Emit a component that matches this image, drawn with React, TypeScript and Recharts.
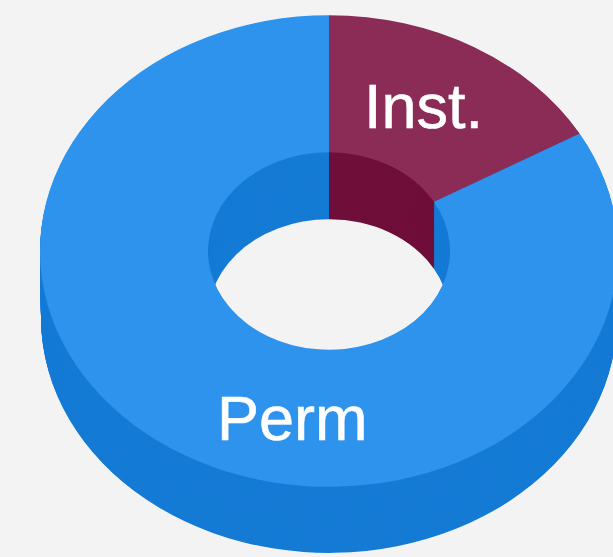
import { PieChart, Pie, Cell } from 'recharts';

const categories = ['Inst.', 'Perm'];
const values = [16.7, 83.3];
const topColors = ['#8b2c57', '#2d93ed'];
const sideColors = ['#6f0f3a', '#157bd5'];

const data = categories.map((name, i) => ({ name, value: values[i] }));

// the flat pie gets squashed with a css transform to look tilted
const SQUASH = 0.816;
const CX = 329;
const CY = 251 / SQUASH;
const OUTER = 289;
const INNER = 121;
const DEPTH = Math.round(67 / SQUASH);

const layers: number[] = [];
for (let d = DEPTH; d > 0; d--) layers.push(d);

const labelStyle = {
  fill: '#fff',
  stroke: '#fff',
  strokeWidth: 0.6,
  fontFamily: "'Liberation Sans', Arial, sans-serif",
  fontSize: 63,
};

export default function App() {
  return (
    <div style={{ position: 'fixed', left: 0, top: 0, width: 613, height: 557, overflow: 'hidden', background: '#f3f3f3' }}>
      <div style={{ position: 'absolute', left: 0, top: 0, width: 640, height: 720, transform: `scaleY(${SQUASH})`, transformOrigin: '0 0', filter: 'blur(0.5px)' }}>
        <PieChart width={640} height={720} margin={{ top: 0, right: 0, bottom: 0, left: 0 }}>
          {layers.map((d) => (
            <Pie
              key={d}
              data={data}
              dataKey="value"
              nameKey="name"
              cx={CX}
              cy={CY + d}
              innerRadius={INNER}
              outerRadius={OUTER - d / DEPTH}
              startAngle={90}
              endAngle={-270}
              stroke="none"
              isAnimationActive={false}
            >
              {data.map((entry, i) => (
                <Cell key={entry.name} fill={sideColors[i]} />
              ))}
            </Pie>
          ))}
          <Pie
            data={data}
            dataKey="value"
            nameKey="name"
            cx={CX}
            cy={CY}
            innerRadius={INNER}
            outerRadius={OUTER}
            startAngle={90}
            endAngle={-270}
            stroke="none"
            isAnimationActive={false}
          >
            {data.map((entry, i) => (
              <Cell key={entry.name} fill={topColors[i]} />
            ))}
          </Pie>
        </PieChart>
      </div>
      <svg width={613} height={557} style={{ position: 'absolute', left: 0, top: 0, filter: 'blur(0.4px)' }}>
        <text x={364} y={128} style={labelStyle}>
          {categories[0]}
        </text>
        <text x={217} y={440} style={labelStyle}>
          {categories[1]}
        </text>
      </svg>
    </div>
  );
}
